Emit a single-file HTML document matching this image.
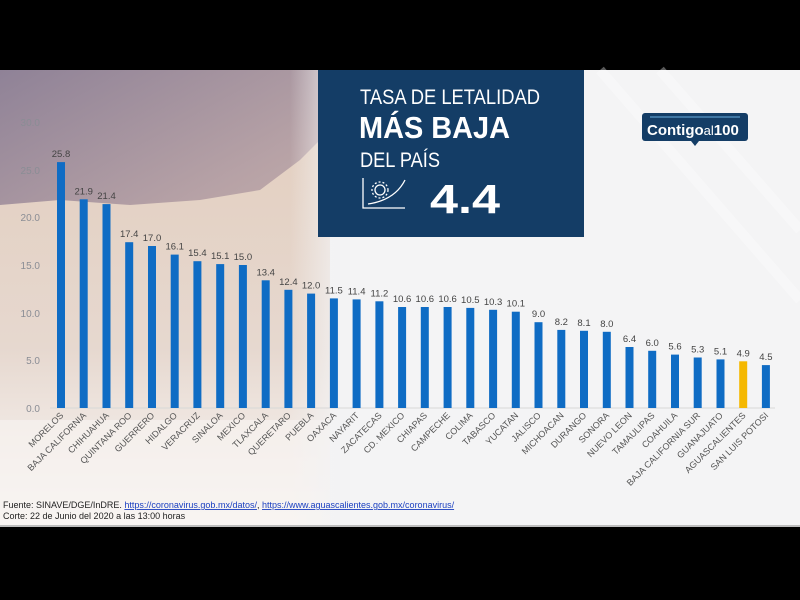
<!DOCTYPE html>
<html><head><meta charset="utf-8"><style>
html,body{margin:0;padding:0;background:#000;width:800px;height:600px;overflow:hidden}
svg{display:block}
text{font-family:"Liberation Sans",sans-serif}
</style></head><body>
<svg width="800" height="600" viewBox="0 0 800 600" xmlns="http://www.w3.org/2000/svg">
<defs>
<linearGradient id="sky" x1="0" y1="0" x2="0.4" y2="1">
<stop offset="0" stop-color="#8f8297"/><stop offset="0.45" stop-color="#b7a2a6"/><stop offset="1" stop-color="#d9c3b6"/>
</linearGradient>
<linearGradient id="bld" x1="0" y1="0" x2="0" y2="1">
<stop offset="0" stop-color="#e3cfc0"/><stop offset="0.55" stop-color="#e6d8cf"/><stop offset="1" stop-color="#fbf9f8"/>
</linearGradient>
<linearGradient id="fadeR" x1="0" y1="0" x2="1" y2="0">
<stop offset="0" stop-color="#f3f3f4" stop-opacity="0"/><stop offset="1" stop-color="#f3f3f4" stop-opacity="1"/>
</linearGradient>
</defs>
<rect x="0" y="70" width="800" height="456" fill="#f4f4f5"/>
<rect x="0" y="70" width="330" height="456" fill="url(#sky)"/>
<path d="M0 205 L60 200 L130 205 L200 200 L260 190 L300 160 L330 130 L330 526 L0 526 Z" fill="url(#bld)"/>
<rect x="0" y="420" width="330" height="106" fill="#f6f2f0" opacity="0.7"/>
<rect x="290" y="70" width="60" height="456" fill="url(#fadeR)"/>
<g stroke="#ffffff" stroke-width="10" opacity="0.35">
<line x1="600" y1="70" x2="800" y2="300"/><line x1="660" y1="70" x2="800" y2="230"/>
</g>
<rect x="318" y="70" width="266" height="167" fill="#143d66"/>
<text x="360" y="104" font-size="21" fill="#fff" textLength="180" lengthAdjust="spacingAndGlyphs">TASA DE LETALIDAD</text>
<text x="359" y="138" font-size="31" font-weight="bold" fill="#fff" textLength="151" lengthAdjust="spacingAndGlyphs">MÁS BAJA</text>
<text x="360" y="167" font-size="21" fill="#fff" textLength="80" lengthAdjust="spacingAndGlyphs">DEL PAÍS</text>
<g stroke="#fff" fill="none" stroke-width="1.3">
<path d="M363 178 V208 H405"/><path d="M368 204 Q395 200 405 180"/>
<circle cx="380" cy="190" r="5"/><circle cx="380" cy="190" r="8" stroke-dasharray="2 2"/>
</g>
<text x="430" y="213" font-size="41" font-weight="bold" fill="#fff" textLength="70" lengthAdjust="spacingAndGlyphs">4.4</text>
<rect x="642" y="113" width="106" height="28" rx="3" fill="#143d66"/>
<path d="M691 141 L695 146 L699 141 Z" fill="#143d66"/>
<line x1="650" y1="117" x2="740" y2="117" stroke="#6ab0e0" stroke-width="1"/>
<text x="647" y="135" font-size="15" font-weight="bold" fill="#fff">Contigo<tspan font-weight="normal" font-size="13">al</tspan>100</text>
<g font-size="10" fill="#8a8d95" text-anchor="end">
<text x="40" y="126">30.0</text><text x="40" y="174">25.0</text><text x="40" y="221">20.0</text>
<text x="40" y="269">15.0</text><text x="40" y="317">10.0</text><text x="40" y="364">5.0</text><text x="40" y="412">0.0</text>
</g>
<line x1="50" y1="408" x2="775" y2="408" stroke="#d8d8d8" stroke-width="1"/>
<g fill="#0f6cc4">
<rect x="57.0" y="162.1" width="8" height="245.9"/>
<rect x="79.7" y="199.3" width="8" height="208.7"/>
<rect x="102.5" y="204.1" width="8" height="203.9"/>
<rect x="125.2" y="242.2" width="8" height="165.8"/>
<rect x="148.0" y="246.0" width="8" height="162.0"/>
<rect x="170.7" y="254.6" width="8" height="153.4"/>
<rect x="193.4" y="261.2" width="8" height="146.8"/>
<rect x="216.2" y="264.1" width="8" height="143.9"/>
<rect x="238.9" y="265.0" width="8" height="143.0"/>
<rect x="261.7" y="280.3" width="8" height="127.7"/>
<rect x="284.4" y="289.8" width="8" height="118.2"/>
<rect x="307.1" y="293.6" width="8" height="114.4"/>
<rect x="329.9" y="298.4" width="8" height="109.6"/>
<rect x="352.6" y="299.4" width="8" height="108.6"/>
<rect x="375.4" y="301.3" width="8" height="106.7"/>
<rect x="398.1" y="307.0" width="8" height="101.0"/>
<rect x="420.8" y="307.0" width="8" height="101.0"/>
<rect x="443.6" y="307.0" width="8" height="101.0"/>
<rect x="466.3" y="307.9" width="8" height="100.1"/>
<rect x="489.1" y="309.8" width="8" height="98.2"/>
<rect x="511.8" y="311.7" width="8" height="96.3"/>
<rect x="534.5" y="322.2" width="8" height="85.8"/>
<rect x="557.3" y="329.9" width="8" height="78.1"/>
<rect x="580.0" y="330.8" width="8" height="77.2"/>
<rect x="602.8" y="331.8" width="8" height="76.2"/>
<rect x="625.5" y="347.0" width="8" height="61.0"/>
<rect x="648.2" y="350.8" width="8" height="57.2"/>
<rect x="671.0" y="354.6" width="8" height="53.4"/>
<rect x="693.7" y="357.5" width="8" height="50.5"/>
<rect x="716.5" y="359.4" width="8" height="48.6"/>
<rect x="739.2" y="361.3" width="8" height="46.7" fill="#f5b800"/>
<rect x="761.9" y="365.1" width="8" height="42.9"/>
</g>
<g font-size="9.5" fill="#444" text-anchor="middle">
<text x="61.0" y="157.1">25.8</text>
<text x="83.7" y="194.3">21.9</text>
<text x="106.5" y="199.1">21.4</text>
<text x="129.2" y="237.2">17.4</text>
<text x="152.0" y="241.0">17.0</text>
<text x="174.7" y="249.6">16.1</text>
<text x="197.4" y="256.2">15.4</text>
<text x="220.2" y="259.1">15.1</text>
<text x="242.9" y="260.0">15.0</text>
<text x="265.7" y="275.3">13.4</text>
<text x="288.4" y="284.8">12.4</text>
<text x="311.1" y="288.6">12.0</text>
<text x="333.9" y="293.4">11.5</text>
<text x="356.6" y="294.4">11.4</text>
<text x="379.4" y="296.3">11.2</text>
<text x="402.1" y="302.0">10.6</text>
<text x="424.8" y="302.0">10.6</text>
<text x="447.6" y="302.0">10.6</text>
<text x="470.3" y="302.9">10.5</text>
<text x="493.1" y="304.8">10.3</text>
<text x="515.8" y="306.7">10.1</text>
<text x="538.5" y="317.2">9.0</text>
<text x="561.3" y="324.9">8.2</text>
<text x="584.0" y="325.8">8.1</text>
<text x="606.8" y="326.8">8.0</text>
<text x="629.5" y="342.0">6.4</text>
<text x="652.2" y="345.8">6.0</text>
<text x="675.0" y="349.6">5.6</text>
<text x="697.7" y="352.5">5.3</text>
<text x="720.5" y="354.4">5.1</text>
<text x="743.2" y="356.3">4.9</text>
<text x="765.9" y="360.1">4.5</text>
</g>
<g font-size="9" fill="#555" text-anchor="end">
<text transform="translate(64.0,416) rotate(-45)">MORELOS</text>
<text transform="translate(86.7,416) rotate(-45)">BAJA CALIFORNIA</text>
<text transform="translate(109.5,416) rotate(-45)">CHIHUAHUA</text>
<text transform="translate(132.2,416) rotate(-45)">QUINTANA ROO</text>
<text transform="translate(155.0,416) rotate(-45)">GUERRERO</text>
<text transform="translate(177.7,416) rotate(-45)">HIDALGO</text>
<text transform="translate(200.4,416) rotate(-45)">VERACRUZ</text>
<text transform="translate(223.2,416) rotate(-45)">SINALOA</text>
<text transform="translate(245.9,416) rotate(-45)">MEXICO</text>
<text transform="translate(268.7,416) rotate(-45)">TLAXCALA</text>
<text transform="translate(291.4,416) rotate(-45)">QUERETARO</text>
<text transform="translate(314.1,416) rotate(-45)">PUEBLA</text>
<text transform="translate(336.9,416) rotate(-45)">OAXACA</text>
<text transform="translate(359.6,416) rotate(-45)">NAYARIT</text>
<text transform="translate(382.4,416) rotate(-45)">ZACATECAS</text>
<text transform="translate(405.1,416) rotate(-45)">CD. MEXICO</text>
<text transform="translate(427.8,416) rotate(-45)">CHIAPAS</text>
<text transform="translate(450.6,416) rotate(-45)">CAMPECHE</text>
<text transform="translate(473.3,416) rotate(-45)">COLIMA</text>
<text transform="translate(496.1,416) rotate(-45)">TABASCO</text>
<text transform="translate(518.8,416) rotate(-45)">YUCATAN</text>
<text transform="translate(541.5,416) rotate(-45)">JALISCO</text>
<text transform="translate(564.3,416) rotate(-45)">MICHOACAN</text>
<text transform="translate(587.0,416) rotate(-45)">DURANGO</text>
<text transform="translate(609.8,416) rotate(-45)">SONORA</text>
<text transform="translate(632.5,416) rotate(-45)">NUEVO LEON</text>
<text transform="translate(655.2,416) rotate(-45)">TAMAULIPAS</text>
<text transform="translate(678.0,416) rotate(-45)">COAHUILA</text>
<text transform="translate(700.7,416) rotate(-45)">BAJA CALIFORNIA SUR</text>
<text transform="translate(723.5,416) rotate(-45)">GUANAJUATO</text>
<text transform="translate(746.2,416) rotate(-45)">AGUASCALIENTES</text>
<text transform="translate(768.9,416) rotate(-45)">SAN LUIS POTOSI</text>
</g>
<text x="3" y="508" font-size="9" fill="#222">Fuente: SINAVE/DGE/InDRE. <tspan fill="#1a3fc0" text-decoration="underline">https://coronavirus.gob.mx/datos/</tspan>, <tspan fill="#1a3fc0" text-decoration="underline">https://www.aguascalientes.gob.mx/coronavirus/</tspan></text>
<text x="3" y="519" font-size="9" fill="#222">Corte: 22 de Junio del 2020 a las 13:00 horas</text>
<rect x="0" y="525" width="800" height="2" fill="#bdbdbd"/>
</svg>
</body></html>
